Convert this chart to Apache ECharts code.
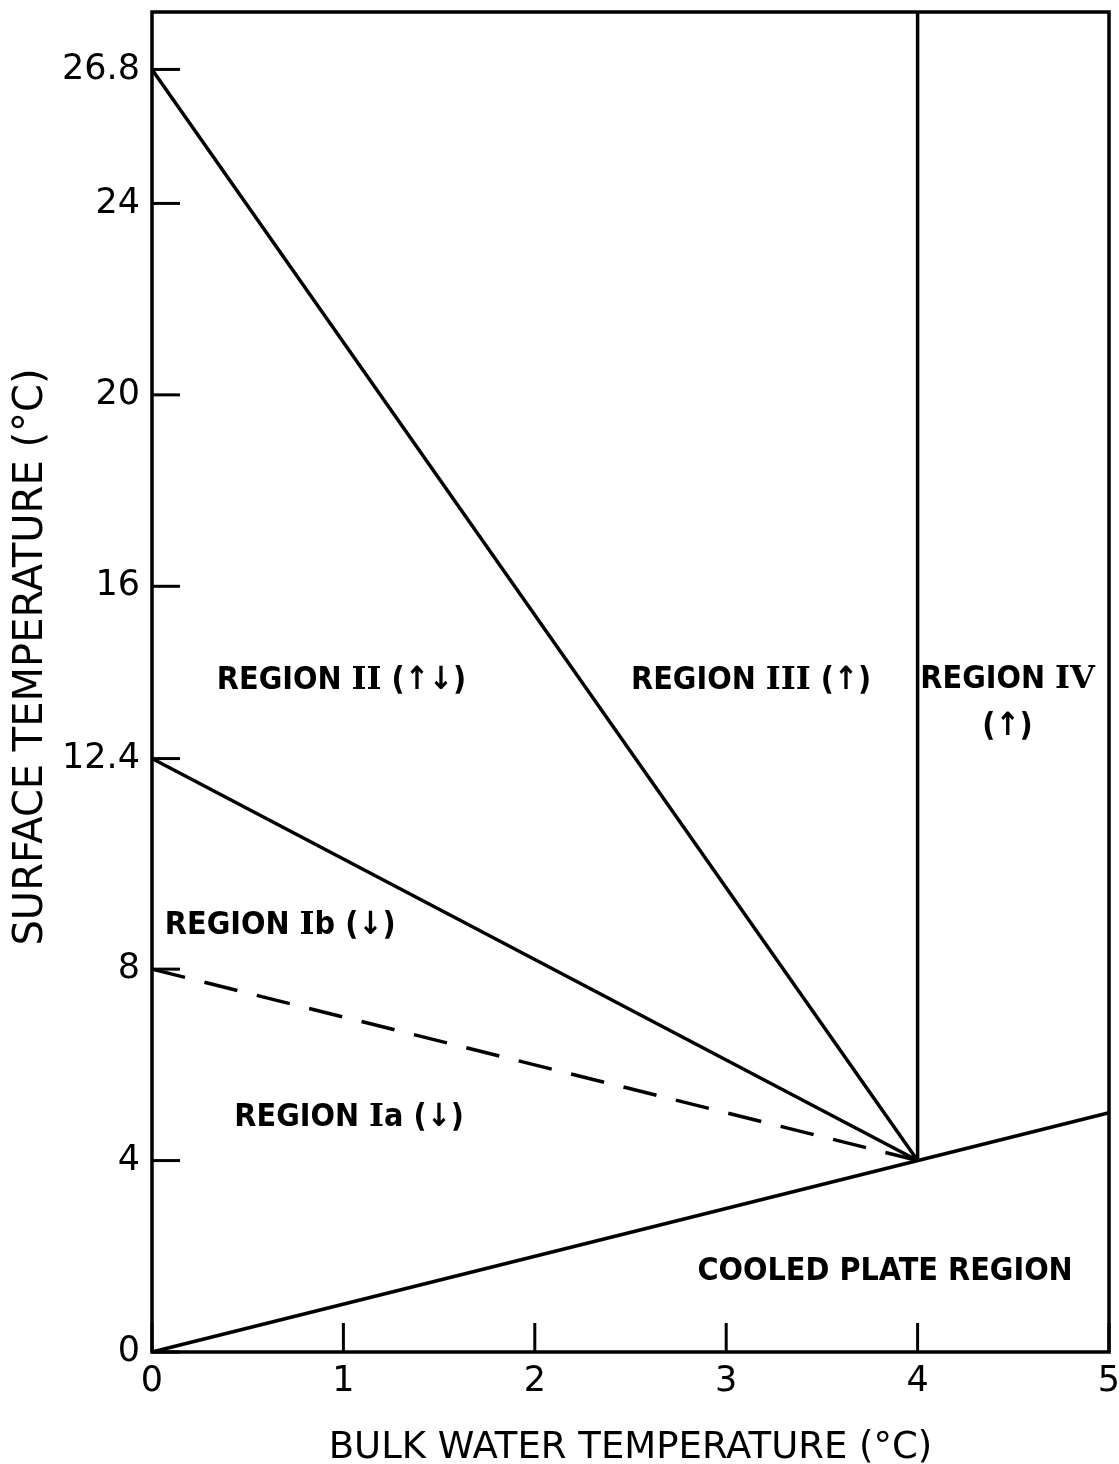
<!DOCTYPE html>
<html>
<head>
<meta charset="utf-8">
<script src="https://cdn.jsdelivr.net/npm/echarts@6/dist/echarts.min.js"></script>
<style>
html,body{margin:0;padding:0;background:#fff;}
#chart{width:1119px;height:1464px;}
</style>
</head>
<body>
<div id="chart"></div>
<script>
// ---- data ----
const upperBoundary = [[0, 26.8], [4, 4]];
const middleBoundary = [[0, 12.4], [4, 4]];
const dashedBoundary = [[0, 8], [4, 4]];
const plateLine = [[0, 0], [5, 5]];
const densityMaxLine = [[4, 4], [4, 28]];

const yTickValues = [0, 4, 8, 12.4, 16, 20, 24, 26.8];
const xTickValues = [0, 1, 2, 3, 4, 5];

const regionTexts = [
  'REGION {r|II} (↑↓)',
  'REGION {r|III} (↑)',
  'REGION {r|IV}\n(↑)',
  'REGION {r|I}b (↓)',
  'REGION {r|I}a (↓)',
  'COOLED PLATE REGION'
];
const regionX = [0.99, 3.13, 4.47, 0.67, 1.03, 3.83];
const regionY = [14.03, 14.03, 13.55, 8.91, 4.89, 1.67];

const xTitle = 'BULK WATER TEMPERATURE (°C)';
const yTitle = 'SURFACE TEMPERATURE (°C)';

// ---- chart ----
const chart = echarts.init(document.getElementById('chart'), null, {renderer: 'canvas'});
const black = '#000';
const lineW = 3.5;

function lineSeries(name, data, dashed) {
  return {
    name: name, type: 'line', data: data, symbol: 'none', silent: true,
    lineStyle: {color: black, width: lineW, type: dashed ? [34, 20] : 'solid'},
    z: 3
  };
}

const labelData = regionTexts.map((t, i) => ({value: [regionX[i], regionY[i]], text: t}));

chart.setOption({
  animation: false,
  backgroundColor: '#fff',
  grid: {left: 152, right: 10, top: 12, bottom: 112, containLabel: false, outerBoundsMode: 'none',
    show: true, borderColor: black, borderWidth: 3.5},
  xAxis: {
    type: 'value', min: 0, max: 5, interval: 1,
    axisLine: {show: false}, axisTick: {show: false}, splitLine: {show: false},
    axisLabel: {color: black, fontFamily: 'DejaVu Sans', fontSize: 35, margin: 12,
      formatter: v => xTickValues.some(t => Math.abs(t - v) < 1e-6) ? String(v) : ''},
    name: xTitle, nameLocation: 'middle', nameGap: 78,
    nameTextStyle: {color: black, fontFamily: 'DejaVu Sans', fontSize: 37}
  },
  yAxis: {
    type: 'value', min: 0, max: 28, interval: 0.4,
    axisLine: {show: false}, axisTick: {show: false}, splitLine: {show: false},
    axisLabel: {color: black, fontFamily: 'DejaVu Sans', fontSize: 35, margin: 12,
      formatter: v => yTickValues.some(t => Math.abs(t - v) < 1e-6) ? String(Math.round(v * 10) / 10) : ''},
    name: yTitle, nameLocation: 'middle', nameGap: 100,
    nameTextStyle: {color: black, fontFamily: 'DejaVu Sans', fontSize: 40, padding: [0, 0, 0, 50]}
  },
  series: [
    lineSeries('upper', upperBoundary, false),
    lineSeries('middle', middleBoundary, false),
    lineSeries('dashed', dashedBoundary, true),
    lineSeries('plate', plateLine, false),
    lineSeries('density max', densityMaxLine, false),
    {
      type: 'custom', name: 'yticks', silent: true, z: 4,
      data: yTickValues.map(v => [0, v]),
      renderItem: (params, api) => {
        const p = api.coord([api.value(0), api.value(1)]);
        return {type: 'line', shape: {x1: p[0], y1: p[1], x2: p[0] + 28, y2: p[1]},
          style: {stroke: black, lineWidth: 3}};
      }
    },
    {
      type: 'custom', name: 'xticks', silent: true, z: 4,
      data: xTickValues.map(v => [v, 0]),
      renderItem: (params, api) => {
        const p = api.coord([api.value(0), api.value(1)]);
        return {type: 'line', shape: {x1: p[0], y1: p[1], x2: p[0], y2: p[1] - 29},
          style: {stroke: black, lineWidth: 3}};
      }
    },
    {
      type: 'scatter', name: 'regions', silent: true, symbolSize: 0, z: 5,
      itemStyle: {opacity: 1, color: black},
      data: labelData,
      label: {
        show: true, position: 'inside', color: black, opacity: 1,
        fontFamily: 'DejaVu Sans Condensed', fontWeight: 'bold', fontSize: 32, lineHeight: 47, align: 'center',
        formatter: p => p.data.text,
        rich: {r: {fontFamily: 'DejaVu Serif', fontWeight: 'bold', fontSize: 32, color: black}}
      }
    }
  ]
});
</script>
</body>
</html>
